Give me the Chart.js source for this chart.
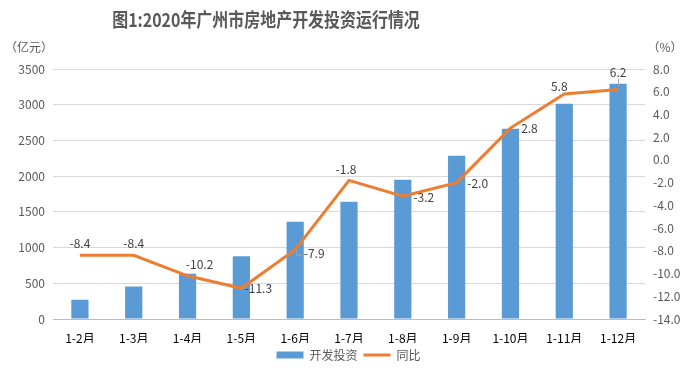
<!DOCTYPE html>
<html>
<head>
<meta charset="utf-8">
<script src="https://cdn.jsdelivr.net/npm/chart.js@4.4.0/dist/chart.umd.min.js"></script>
<style>
  html, body { margin: 0; padding: 0; background: #fff; }
  #wrap { width: 687px; height: 371px; position: relative; }
</style>
</head>
<body>
<div id="wrap"><canvas id="myChart"></canvas></div>
<script>
'use strict';

// data
const months = ["1-2月", "1-3月", "1-4月", "1-5月", "1-6月", "1-7月", "1-8月", "1-9月", "1-10月", "1-11月", "1-12月"];
const investment = [270, 455, 634, 877, 1362, 1643, 1951, 2287, 2665, 3015, 3295];
const growth = [-8.4, -8.4, -10.2, -11.3, -7.9, -1.8, -3.2, -2.0, 2.8, 5.8, 6.2];
const leftTicks = [0, 3500, 500];
const rightTicks = [-14, 8, 2];

const FONT = "'Noto Sans CJK SC', 'Noto Sans', sans-serif";
Chart.defaults.font.family = FONT;
Chart.defaults.font.size = 12;
Chart.defaults.color = '#595959';

// label offsets from the line point, roughly how excel put them
const labelOffsets = [[0, -12], [0, -12], [12, -11], [17, 0], [19, 4], [-3, -11],
                      [21, 1], [21, 1], [19, 0], [-5, -8], [0, -17]];

const extras = {
    id: 'extras',
    afterDraw(chart) {
        let ctx = chart.ctx;
        ctx.save();
        // title, a bit squished like the original
        ctx.fillStyle = '#595959';
        ctx.font = 'bold 19px ' + FONT;
        ctx.textAlign = 'center';
        ctx.textBaseline = 'middle';
        ctx.translate(266, 20);
        ctx.scale(0.84, 1);
        ctx.fillText('图1:2020年广州市房地产开发投资运行情况', 0, 0);
        ctx.restore();

        ctx.save();
        ctx.fillStyle = '#595959';
        ctx.font = '12px ' + FONT;
        ctx.textBaseline = 'middle';
        ctx.textAlign = 'center';
        ctx.fillText('（亿元）', 29, 47);
        ctx.fillText('（%）', 665, 47);

        // data labels on the line
        let meta = chart.getDatasetMeta(1);
        ctx.fillStyle = '#404040';
        meta.data.forEach((pt, i) => {
            let off = labelOffsets[i];
            ctx.fillText(growth[i].toFixed(1), pt.x + off[0], pt.y + off[1]);
        });
        // little leader lines
        let last = meta.data[meta.data.length - 1];
        ctx.strokeStyle = '#A6A6A6';
        ctx.lineWidth = 1;
        ctx.beginPath();
        ctx.moveTo(last.x + 0.5, last.y - 11);
        ctx.lineTo(last.x + 0.5, last.y - 3);
        ctx.stroke();
        let p6 = meta.data[4];
        ctx.beginPath();
        ctx.moveTo(p6.x + 1, p6.y + 1);
        ctx.lineTo(p6.x + 1, p6.y + 5.5);
        ctx.lineTo(p6.x + 7, p6.y + 5.5);
        ctx.stroke();
        ctx.restore();
    }
};

let ctx = document.getElementById('myChart').getContext('2d');
let myChart = new Chart(ctx, {
    type: 'bar',
    data: {
        labels: months,
        datasets: [{
            type: 'bar',
            label: '开发投资',
            data: investment,
            backgroundColor: '#5B9BD5',
            borderWidth: 0,
            yAxisID: 'y',
            order: 2,
            categoryPercentage: 1,
            barPercentage: 0.32
        }, {
            type: 'line',
            label: '同比',
            data: growth,
            borderColor: '#ED7D31',
            backgroundColor: '#ED7D31',
            borderWidth: 3,
            pointRadius: 0,
            tension: 0,
            fill: false,
            yAxisID: 'y1',
            order: 1
        }]
    },
    options: {
        responsive: true,
        maintainAspectRatio: false,
        animation: false,
        layout: { padding: { top: 69, left: 10, right: 0, bottom: 0 } },
        plugins: {
            title: { display: false },
            tooltip: { enabled: false },
            legend: {
                position: 'bottom',
                labels: {
                    usePointStyle: true,
                    boxWidth: 27,
                    boxHeight: 7,
                    pointStyleWidth: 27,
                    padding: 6,
                    color: '#595959',
                    font: { size: 12 },
                    sort: (a, b) => a.datasetIndex - b.datasetIndex,
                    generateLabels(chart) {
                        return chart.data.datasets.map((ds, i) => ({
                            text: ds.label,
                            fillStyle: ds.backgroundColor,
                            strokeStyle: ds.type === 'line' ? ds.borderColor : ds.backgroundColor,
                            lineWidth: ds.type === 'line' ? 3 : 0,
                            pointStyle: ds.type === 'line' ? 'line' : 'rect',
                            fontColor: '#595959',
                            datasetIndex: i
                        }));
                    }
                }
            }
        },
        scales: {
            x: {
                grid: { display: false },
                border: { color: '#A9C0D8' },
                ticks: { color: '#000000', padding: 4, maxRotation: 0, autoSkip: false },
                afterFit(scale) { scale.height = 24; }
            },
            y: {
                position: 'left',
                min: leftTicks[0],
                max: leftTicks[1],
                ticks: { stepSize: leftTicks[2], padding: 8, callback: v => String(v) },
                grid: { color: '#D9D9D9', drawTicks: false },
                border: { display: false },
                afterFit(scale) { scale.width = 43; }
            },
            y1: {
                position: 'right',
                min: rightTicks[0],
                max: rightTicks[1],
                ticks: { stepSize: rightTicks[2], padding: 8, callback: v => v.toFixed(1) },
                grid: { display: false, drawTicks: false },
                border: { display: false },
                afterFit(scale) { scale.width = 42; }
            }
        }
    },
    plugins: [extras]
});
</script>
</body>
</html>
